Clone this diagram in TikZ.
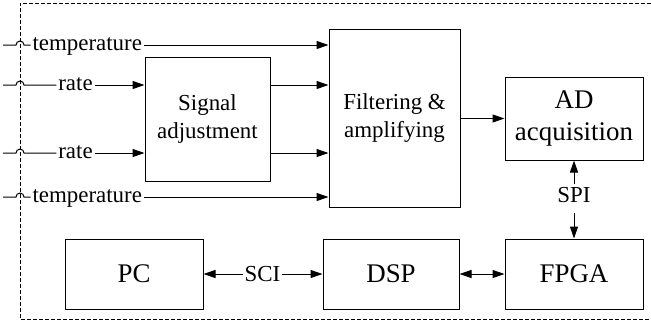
\documentclass[tikz,border=0pt]{standalone}
\usepackage{fontspec}
\setmainfont{Liberation Serif}
\usetikzlibrary{arrows.meta}
\tikzset{
	blk/.style={draw, line width=1bp, inner sep=0pt, align=center, font=\rmfamily\fontsize{23}{28}\selectfont},
	big/.style={font=\rmfamily\fontsize{27}{32}\selectfont},
	lbl/.style={inner sep=1.5bp, text height=10.4bp, text depth=0pt, font=\rmfamily\fontsize{23}{28}\selectfont},
	caplbl/.style={lbl, text height=15.2bp},
	frame/.style={line width=1bp, dash pattern=on 4bp off 2bp}
}
\def\hop(#1)(#2){\draw (#1) -- ++(13,0) arc (180:360:4) -- (#2.west);}

\begin{document}
\begin{tikzpicture}[x=1bp, y=-1bp, line width=1bp, >={Triangle[length=12bp,width=8bp]}]
		%%%%% START %%%%%
		\useasboundingbox (0,0) rectangle (651,327);
		\draw[frame] (651,3) -- (20,3) -- (20,319) -- (651,319);
		
		\node[blk, minimum width=125bp, minimum height=124bp] (sig) at (207.5,119) {Signal\\adjustment};
		\node[blk, minimum width=131bp, minimum height=178bp] (filt) at (394.5,118) {Filtering \&\\amplifying};
		\node[blk, big, minimum width=138bp, minimum height=83bp] (ad) at (574,118.5) {AD\\acquisition};
		
		\node[blk, big, minimum width=138bp, minimum height=70bp] (pc) at (134,274) {PC};
		\node[blk, big, minimum width=136bp, minimum height=70bp] (dsp) at (391,274) {DSP};
		\node[blk, big, minimum width=138bp, minimum height=70bp] (fpga) at (574,274) {FPGA};
		
		% inputs
		\coordinate (in1) at (3,45);
		\coordinate (in2) at (3,85);
		\coordinate (in3) at (3,153);
		\coordinate (in4) at (3,197);
		\node[lbl, anchor=west] (temp1) at (30.5,45) {temperature};
		\node[lbl] (rate1) at (75.5,85) {rate};
		\node[lbl] (rate2) at (75.5,153) {rate};
		\node[lbl, anchor=west] (temp2) at (30.5,197) {temperature};
		
		\hop(in1)(temp1);
		\hop(in2)(rate1);
		\hop(in3)(rate2);
		\hop(in4)(temp2);
		
		\draw[->] (temp1.east) -- (filt.west |- temp1);
		\draw[->] (rate1.east) -- (sig.west |- rate1);
		\draw[->] (rate2.east) -- (sig.west |- rate2);
		\draw[->] (temp2.east) -- (filt.west |- temp2);
		
		\draw[->] (sig.east |- rate1) -- (filt.west |- rate1);
		\draw[->] (sig.east |- rate2) -- (filt.west |- rate2);
		\draw[->] (filt.east |- ad) -- (ad.west);
		
		% buses
		\node[caplbl, text depth=7bp, inner ysep=2.5bp, anchor=base] (spi) at (574,202.5) {SPI};
		\draw[->] (spi) -- (ad);
		\draw[->] (spi) -- (fpga);
		
		\node[caplbl] (sci) at (262.5,274) {SCI};
		\draw[->] (sci) -- (pc);
		\draw[->] (sci) -- (dsp);
		
		\draw[<->] (dsp) -- (fpga);
		%%%%% END %%%%%
\end{tikzpicture}
\end{document}
